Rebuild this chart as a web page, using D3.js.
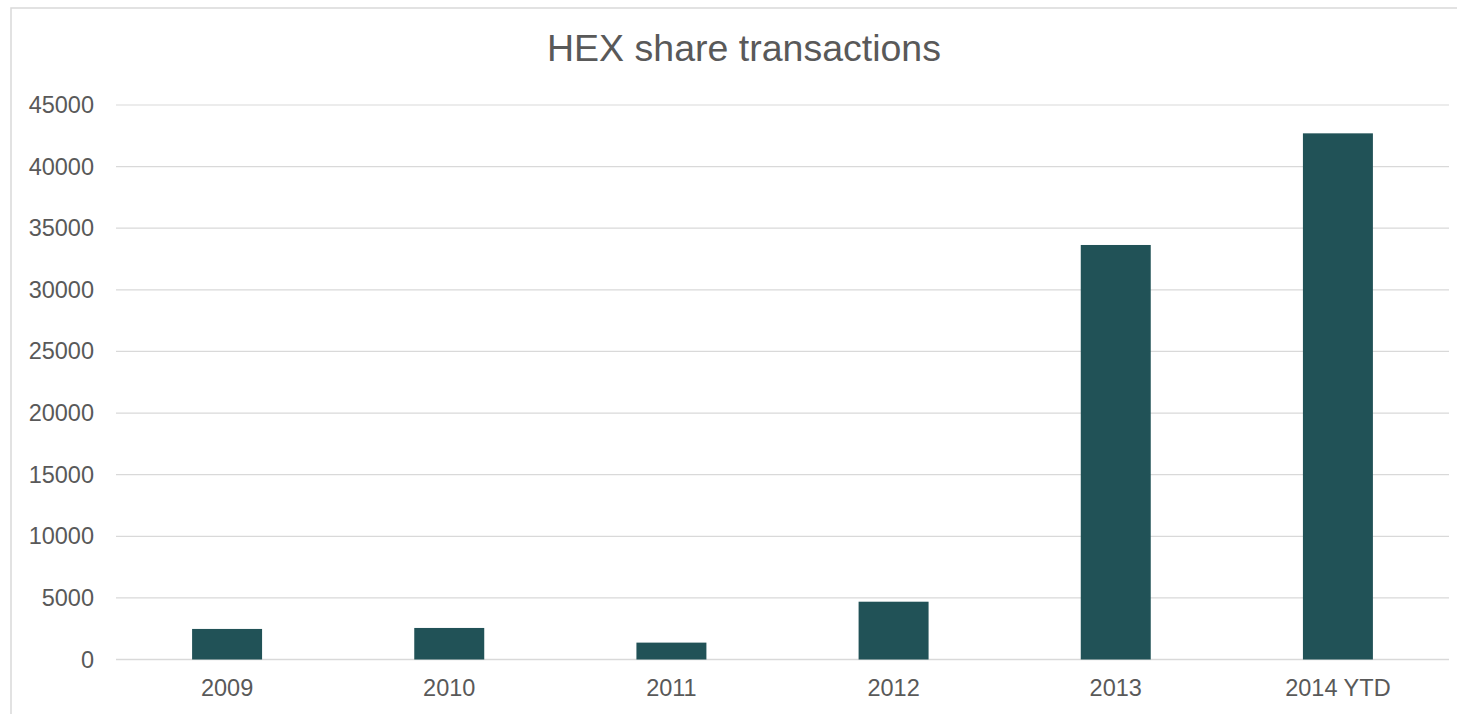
<!DOCTYPE html>
<html>
<head>
<meta charset="utf-8">
<script src="https://cdn.jsdelivr.net/npm/d3@7"></script>
<style>
	html, body { margin: 0; padding: 0; background: #fff; overflow: hidden; }
</style>
</head>
<body>
<div class="chart"></div>
<script>
// HEX share transactions - column chart
const years = ['2009', '2010', '2011', '2012', '2013', '2014 YTD']
const transactions = [2480, 2560, 1370, 4690, 33640, 42700]
const yTicks = [0, 5000, 10000, 15000, 20000, 25000, 30000, 35000, 40000, 45000]

const data = years.map((y, i) => ({year: y, value: transactions[i]}))

const W = 1457
const H = 714
const margin = ({top: 105, right: 8, bottom: 54.5, left: 116})
const width = W - margin.left - margin.right
const height = H - margin.top - margin.bottom

const svg = d3.select('.chart')
	.append('svg')
	.attr('width', W)
	.attr('height', H)

// chart frame (runs off the right and bottom edge)
svg.append('rect')
	.attr('x', 11)
	.attr('y', 8)
	.attr('width', 1600)
	.attr('height', 900)
	.attr('fill', 'none')
	.attr('stroke', '#d9d9d9')
	.attr('stroke-width', 1.5)

// title
svg.append('text')
	.attr('x', 744)
	.attr('y', 61)
	.attr('text-anchor', 'middle')
	.attr('font-family', 'Liberation Sans, Arial, sans-serif')
	.attr('font-size', '37.5px')
	.attr('fill', '#595959')
	.text('HEX share transactions')

const g = svg.append('g')
	.attr('transform', 'translate(' + margin.left + ',' + margin.top + ')')

const xScale = d3.scaleBand()
	.domain(years)
	.range([0, width])
	.paddingInner(0.685)
	.paddingOuter(0.3425)

const yScale = d3.scaleLinear()
	.domain([0, 45000])
	.range([height, 0])

// gridlines
g.append('g')
	.selectAll('line')
	.data(yTicks)
	.enter()
	.append('line')
	.attr('x1', 0)
	.attr('x2', width)
	.attr('y1', d => yScale(d))
	.attr('y2', d => yScale(d))
	.attr('stroke', '#d9d9d9')
	.attr('stroke-width', d => d === 0 ? 1.6 : 1.2)

// y axis labels
const yAxis = d3.axisLeft(yScale)
	.tickValues(yTicks)
	.tickFormat(d3.format('d'))
	.tickSize(0)
	.tickPadding(22)

g.append('g')
	.attr('class', 'axis y-axis')
	.call(yAxis)
	.call(a => a.select('.domain').remove())
	.selectAll('text')
	.attr('font-family', 'Liberation Sans, Arial, sans-serif')
	.attr('font-size', '23.5px')
	.attr('fill', '#595959')

// x axis labels
const xAxis = d3.axisBottom(xScale)
	.tickSize(0)
	.tickPadding(20)

g.append('g')
	.attr('class', 'axis x-axis')
	.attr('transform', `translate(0, ${height})`)
	.call(xAxis)
	.call(a => a.select('.domain').remove())
	.selectAll('text')
	.attr('font-family', 'Liberation Sans, Arial, sans-serif')
	.attr('font-size', '23.5px')
	.attr('fill', '#595959')

// bars
g.selectAll('rect.bar')
	.data(data)
	.enter()
	.append('rect')
	.attr('class', 'bar')
	.attr('x', d => xScale(d.year))
	.attr('y', d => yScale(d.value))
	.attr('width', xScale.bandwidth())
	.attr('height', d => yScale(0) - yScale(d.value))
	.attr('fill', '#215257')
</script>
</body>
</html>
